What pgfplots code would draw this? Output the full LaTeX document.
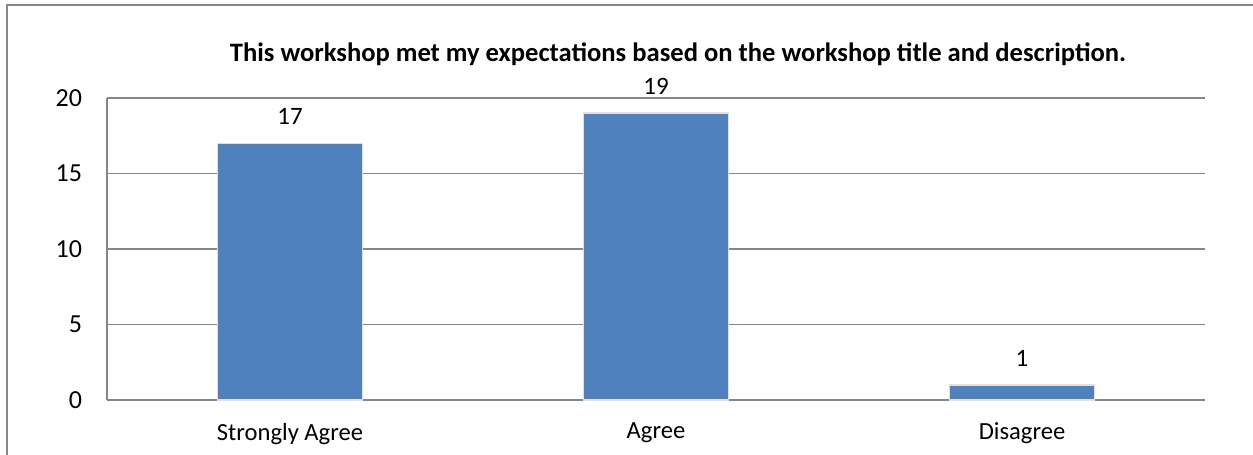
\documentclass[border=0pt]{standalone}
\usepackage{pgfplots}
\pgfplotsset{compat=1.18}
\usepackage{fontspec}
\setmainfont{Carlito}
\definecolor{barblue}{HTML}{4F81BD}
\definecolor{gridgray}{HTML}{868686}
\definecolor{framegray}{HTML}{878787}

\begin{document}
\begin{tikzpicture}
\useasboundingbox (0,0) rectangle (626.5pt,227.5pt);
% chart frame (only left and top edges visible)
\draw[framegray, line width=0.9pt] (3.5pt,0) -- (3.5pt,225pt) -- (630pt,225pt);
\node[font=\fontsize{13.3}{15}\selectfont\bfseries] at (339pt,200.5pt)
  {This workshop met my expectations based on the workshop title and description.};
\begin{axis}[
  at={(53.5pt,27.5pt)}, anchor=south west,
  scale only axis,
  width=549pt, height=151pt,
  ybar, bar width=0.396,
  xmin=-0.5, xmax=2.5,
  ymin=0, ymax=20,
  ytick={0,5,10,15,20},
  xtick={0,1,2},
  xticklabels={Strongly Agree, Agree, Disagree},
  axis x line*=bottom,
  axis y line*=left,
  axis line style={gridgray, line width=0.7pt},
  ymajorgrids,
  grid style={gridgray, line width=0.7pt},
  major tick length=0pt,
  tick label style={font=\fontsize{12.3}{14}\selectfont},
  yticklabel style={font=\fontsize{13}{14}\selectfont, xshift=-9pt},
  xticklabel style={yshift=-8pt},
  /pgf/number format/assume math mode=true,
  nodes near coords,
  nodes near coords style={font=\fontsize{12.5}{14}\selectfont, yshift=5.5pt},
  every node near coord/.append style={/pgf/number format/assume math mode=true},
]
\addplot[fill=barblue, draw=white!88!black, line width=0.8pt]
  coordinates {(0,17) (1,19) (2,1)};
\end{axis}
\end{tikzpicture}
\end{document}
